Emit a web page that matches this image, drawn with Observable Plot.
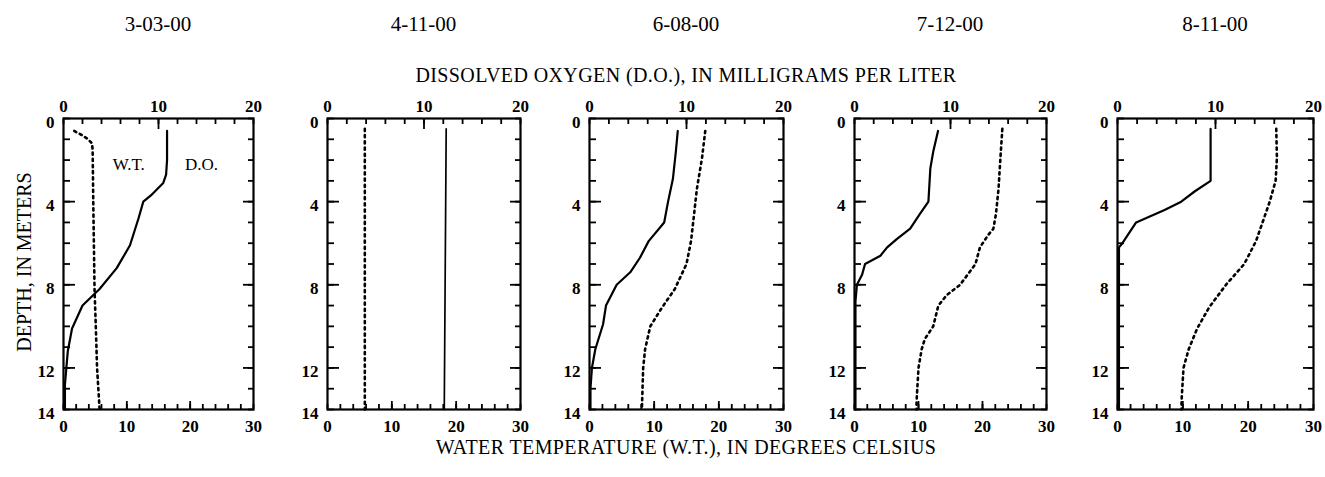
<!DOCTYPE html>
<html><head><meta charset="utf-8">
<script src="https://cdn.jsdelivr.net/npm/d3@7"></script>
<script src="https://cdn.jsdelivr.net/npm/@observablehq/plot@0.6"></script>
<style>
body{margin:0;background:#fff;color:#000;font-family:"Liberation Serif","Times New Roman",serif}
#chart{position:relative;width:1325px;height:477px;overflow:hidden;background:#fff}
.t{position:absolute;white-space:nowrap;transform:translate(-50%,-50%);line-height:1}
.p{position:absolute}
.p g[aria-label$="tick label"] text{font-size:17px;font-weight:bold;font-family:"Liberation Serif",serif}
.p g[aria-label="text"] text{font-size:17px;font-family:"Liberation Serif",serif}
</style></head><body><div id="chart"></div>
<script>
// ---- data ----
const dates = ["3-03-00","4-11-00","6-08-00","7-12-00","8-11-00"];

// water temperature (°C) profiles: depth (m) and value
const wtDepth1 = [0.6,0.8,1.0,1.2,1.5,4,8.2,10,12,13,14];
const wt1      = [1.7,2.9,3.9,4.5,4.6,4.7,4.9,5.1,5.3,5.5,5.7];
const wtDepth2 = [0.5,14];
const wt2      = [5.8,5.8];
const wtDepth3 = [0.6,1.9,3.4,4.8,5.9,7.0,8.2,9.1,10.0,11.1,12.0,14];
const wt3      = [17.9,17.4,16.6,16.1,15.7,15.0,13.2,11.2,9.4,8.6,8.3,8.1];
const wtDepth4 = [0.5,1.9,3.4,4.6,5.3,5.6,6.2,7.0,8.0,8.5,9.0,10.0,10.6,11.1,12.0,13.6,14];
const wt4      = [23.1,22.8,22.5,22.1,21.7,20.9,19.6,18.9,16.5,14.4,13.1,12.3,11.0,10.5,10.0,9.7,9.7];
const wtDepth5 = [0.5,1.9,3.0,4.0,5.0,5.9,7.0,8.0,9.1,10.1,11.1,12.0,13.6,14];
const wt5      = [24.3,24.4,24.2,23.3,22.2,21.2,19.4,16.6,14.0,12.2,10.9,10.1,9.8,9.8];

// dissolved oxygen (mg/L) profiles: depth (m) and value
const doDepth1 = [0.6,2.0,2.7,3.1,3.7,4.0,4.8,6.1,7.2,8.2,9.0,10.1,11.2,12.8,14];
const do1      = [10.9,10.9,10.8,10.5,9.2,8.4,7.9,7.0,5.6,3.8,2.0,0.9,0.45,0.15,0.15];
const doDepth2 = [0.5,14];
const do2      = [12.3,12.1];
const doDepth3 = [0.6,1.6,2.9,4.0,5.0,5.9,6.7,7.4,8.0,9.0,9.9,11.1,12.0,13.0,14];
const do3      = [9.1,8.9,8.6,8.1,7.7,6.1,5.2,4.2,2.8,1.7,1.4,0.6,0.25,0.1,0.1];
const doDepth4 = [0.6,1.6,2.4,4.0,4.6,5.3,5.8,6.2,6.6,7.0,7.5,8.0,8.8,14];
const do4      = [8.7,8.2,7.9,7.7,6.8,5.8,4.4,3.4,2.7,1.1,0.8,0.25,0.1,0.1];
const doDepth5 = [0.5,3.0,3.5,4.0,4.4,5.0,6.0,6.2,14];
const do5      = [9.5,9.5,7.9,6.5,4.8,1.9,0.5,0.15,0.15];

// axis ticks
const wtTickLabels = [0,10,20,30];
const wtMinorTicks = d3.range(0,31,2);
const wtMajorTicks = [10,20];
const doTickLabels = [0,10,20];
const doMinorTicks = d3.range(0,21,2);
const doMajorTicks = [10];
const depthTickLabels = [0,4,8,12,14];
const depthMinorTicks = d3.range(0,15,1);
const depthMajorTicks = [4,8,12];

// in-panel labels (first panel only): text, depth, value on W.T. scale
const noteText  = ["W.T.","D.O."];
const noteDepth = [2.2,2.2];
const noteWT    = [10.3,21.8];

const titleTop = "DISSOLVED OXYGEN (D.O.), IN MILLIGRAMS PER LITER";
const titleBottom = "WATER TEMPERATURE (W.T.), IN DEGREES CELSIUS";
const titleLeft = "DEPTH, IN METERS";

// ---- layout ----
const frames = [[63,253],[327,520],[589,783],[854,1046],[1117,1313]];
const frameTop = 118, frameBottom = 409;
const mTop = 34, mBottom = 34, mLeft = 36, mRight = 10;
const DO_TO_WT = 30/20; // D.O. axis 0-20 spans the same width as W.T. 0-30

const zip = (a,b,k) => a.map((d,i) => ({depth:d, [k]:b[i]}));
const wtSeries = [zip(wtDepth1,wt1,"v"),zip(wtDepth2,wt2,"v"),zip(wtDepth3,wt3,"v"),zip(wtDepth4,wt4,"v"),zip(wtDepth5,wt5,"v")];
const doSeries = [zip(doDepth1,do1,"v"),zip(doDepth2,do2,"v"),zip(doDepth3,do3,"v"),zip(doDepth4,do4,"v"),zip(doDepth5,do5,"v")];
const notes = noteText.map((t,i) => ({text:t, depth:noteDepth[i], x:noteWT[i]}));

const chart = document.getElementById("chart");
const SW = 1.8;
const FS = 17;

dates.forEach((date,i) => {
  const [x0,x1] = frames[i];
  const w = x1-x0, h = frameBottom-frameTop;
  const marks = [
    Plot.line(doSeries[i], {x: d => d.v*DO_TO_WT, y:"depth", stroke:"#000", strokeWidth: i===1 ? 1.7 : 2.2, strokeLinejoin:"round"}),
    Plot.line(wtSeries[i], {x:"v", y:"depth", stroke:"#000", strokeWidth:2.6, strokeDasharray:"2.2 4"}),
    Plot.frame({stroke:"#000", strokeWidth:2.2}),
    // bottom: water temperature
    Plot.axisX(wtMinorTicks, {anchor:"bottom", tickSize:-5, fill:"none", strokeWidth:SW, label:null}),
    Plot.axisX(wtMajorTicks, {anchor:"bottom", tickSize:-8, fill:"none", strokeWidth:SW, label:null}),
    Plot.axisX(wtTickLabels, {anchor:"bottom", tickSize:0, tickPadding:10, fontSize:FS, fontWeight:"bold", label:null}),
    // top: dissolved oxygen
    Plot.axisX(doMinorTicks.map(d => d*DO_TO_WT), {anchor:"top", tickSize:-5, fill:"none", strokeWidth:SW, label:null}),
    Plot.axisX(doMajorTicks.map(d => d*DO_TO_WT), {anchor:"top", tickSize:-10, fill:"none", strokeWidth:SW, label:null}),
    Plot.axisX(doTickLabels.map(d => d*DO_TO_WT), {anchor:"top", tickSize:0, tickPadding:7, fontSize:FS, fontWeight:"bold", tickFormat: d => d3.format("d")(d/DO_TO_WT), label:null}),
    // left / right: depth
    Plot.axisY(depthMinorTicks, {anchor:"left", tickSize:-7, fill:"none", strokeWidth:SW, label:null}),
    Plot.axisY(depthMajorTicks, {anchor:"left", tickSize:-12, fill:"none", strokeWidth:SW, label:null}),
    Plot.axisY(depthMinorTicks, {anchor:"right", tickSize:-6, fill:"none", strokeWidth:SW, label:null}),
    Plot.axisY(depthMajorTicks, {anchor:"right", tickSize:-11, fill:"none", strokeWidth:SW, label:null}),
    Plot.axisY(depthTickLabels, {anchor:"left", tickSize:0, tickPadding:9, dy:4, fontSize:FS, fontWeight:"bold", label:null})
  ];
  if (i === 0) marks.push(Plot.text(notes, {x:"x", y:"depth", text:"text", fontSize:17, fill:"#000"}));
  const svg = Plot.plot({
    width: w+mLeft+mRight, height: h+mTop+mBottom,
    marginLeft:mLeft, marginRight:mRight, marginTop:mTop, marginBottom:mBottom,
    x:{domain:[0,30], label:null},
    y:{domain:[0,14], reverse:true, label:null},
    style:{fontFamily:'"Liberation Serif", serif', fontSize:FS+"px", color:"#000", background:"transparent", overflow:"visible"},
    marks
  });
  svg.classList.add("p");
  svg.style.left = (x0-mLeft)+"px";
  svg.style.top = (frameTop-mTop)+"px";
  chart.appendChild(svg);

  const t = document.createElement("div");
  t.className = "t"; t.textContent = date;
  t.style.left = ((x0+x1)/2)+"px"; t.style.top = "24px"; t.style.fontSize = "21px";
  chart.appendChild(t);
});

function addText(txt, x, y, size, extra){
  const d = document.createElement("div");
  d.className = "t"; d.textContent = txt;
  d.style.left = x+"px"; d.style.top = y+"px"; d.style.fontSize = size+"px";
  Object.assign(d.style, extra||{});
  chart.appendChild(d);
}
addText(titleTop, 686, 75, 20, {letterSpacing:"0.4px"});
addText(titleBottom, 686, 447, 20, {letterSpacing:"0.4px"});
addText(titleLeft, 24, 262, 20, {transform:"translate(-50%,-50%) rotate(-90deg)"});
</script></body></html>
